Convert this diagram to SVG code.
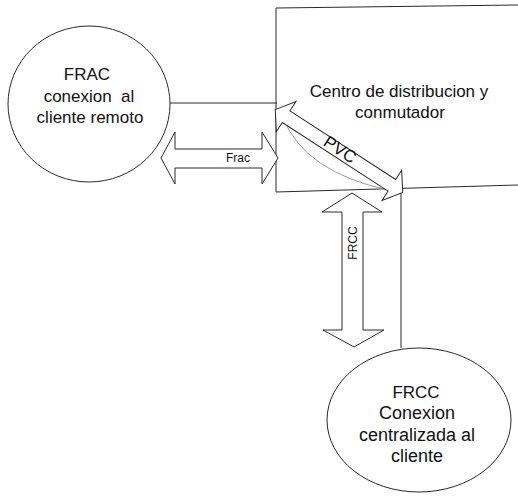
<svg xmlns="http://www.w3.org/2000/svg" width="518" height="502" viewBox="0 0 518 502">
<style>
.ln{fill:none;stroke:#2a2a2a;stroke-width:1}
.blk{fill:#fff;stroke:#2a2a2a;stroke-width:1;stroke-linejoin:miter}
.node{fill:#fff;stroke:#2a2a2a;stroke-width:1}
.t{font-family:"Liberation Sans",Arial,sans-serif;font-size:17px;fill:#111;text-anchor:middle}
.b{font-size:18px}
.s{font-family:"Liberation Sans",Arial,sans-serif;font-size:12px;fill:#111;text-anchor:middle}
</style>
<rect width="518" height="502" fill="#fff"/>
<g id="centro">
<path class="ln" d="M518,5 L276,8 L276,192 L518,185"/>
<text class="t" x="399" y="97">Centro de distribucion y</text>
<text class="t" x="400" y="118">conmutador</text>
</g>
<g id="frac">
<ellipse class="node" cx="89" cy="104" rx="81" ry="78"/>
<text class="t" x="87" y="80">FRAC</text>
<text class="t" x="89" y="102" xml:space="preserve">conexion  al</text>
<text class="t" x="90" y="123">cliente remoto</text>
</g>
<g id="frcc">
<ellipse class="node" cx="419" cy="420" rx="92" ry="72"/>
<text class="t" x="416" y="398">FRCC</text>
<text class="t b" x="417" y="419">Conexion</text>
<text class="t b" x="417" y="441">centralizada al</text>
<text class="t b" x="417" y="462">cliente</text>
</g>
<g id="connectors">
<line class="ln" x1="170" y1="103" x2="277" y2="103"/>
<line class="ln" x1="401" y1="190" x2="401" y2="348"/>
<path d="M283,118 Q305,172 388,190" fill="none" stroke="#999" stroke-width="1"/>
<polygon class="blk" points="161,158 175,132 175,149 262,149 262,132 278,158 262,184 262,168 175,168 175,184"/>
<text class="s" x="238" y="162">Frac</text>
<polygon class="blk" points="352,193 322,212 342,212 342,330 323,330 354,347 384,330 363,330 363,212 382,212"/>
<text class="s" transform="translate(357,243) rotate(-90)">FRCC</text>
<g transform="translate(339,151) rotate(33)">
<polygon class="blk" points="-76,0 -63,-18 -63,-7 63,-7 63,-18 76,0 63,18 63,7 -63,7 -63,18"/>
<text class="t" x="0" y="4" font-size="18">PVC</text>
</g>
</g>
</svg>
